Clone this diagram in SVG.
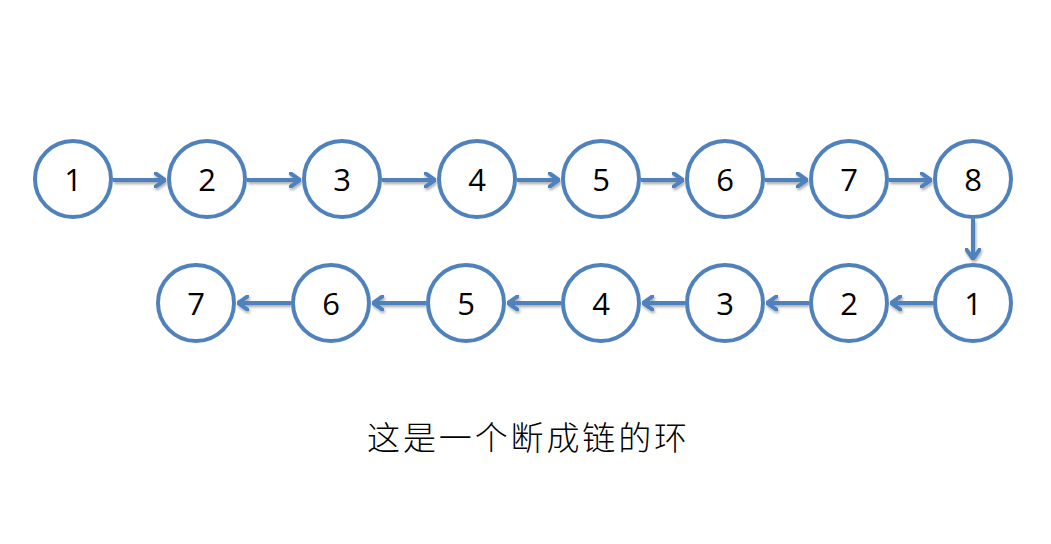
<svg xmlns="http://www.w3.org/2000/svg" width="1051" height="544" viewBox="0 0 1051 544">
<defs>
<style>
.n circle{fill:#fff;stroke:#4F81BD;stroke-width:4}
.n text{font-family:"Open Sans","Liberation Sans",sans-serif;font-size:31px;fill:#000;text-anchor:middle;dominant-baseline:central}
.c line{stroke:#4F81BD;stroke-width:4;marker-end:url(#ah)}
.cap{font-family:"Noto Sans CJK SC",sans-serif;font-size:33px;font-weight:300;fill:#000;text-anchor:middle}
</style>
<marker id="ah" viewBox="0 0 12 16" refX="11" refY="8" markerWidth="12" markerHeight="16" markerUnits="userSpaceOnUse" orient="auto">
<polyline points="1,1 11,8 1,15" fill="none" stroke="#4F81BD" stroke-width="4" stroke-linecap="round" stroke-linejoin="round"/>
</marker>
<filter id="sh" x="-10%" y="-50%" width="120%" height="200%">
<feGaussianBlur in="SourceAlpha" stdDeviation="1.5"/>
<feOffset dx="1" dy="2" result="b"/>
<feComponentTransfer><feFuncA type="linear" slope="0.35"/></feComponentTransfer>
<feMerge><feMergeNode/><feMergeNode in="SourceGraphic"/></feMerge>
</filter>
</defs>
<rect width="1051" height="544" fill="#fff"/>
<g class="c" filter="url(#sh)">
<line x1="113" y1="180" x2="165" y2="180"/>
<line x1="247" y1="180" x2="300" y2="180"/>
<line x1="382" y1="180" x2="435" y2="180"/>
<line x1="517" y1="180" x2="559" y2="180"/>
<line x1="641" y1="180" x2="683" y2="180"/>
<line x1="765" y1="180" x2="807" y2="180"/>
<line x1="889" y1="180" x2="931" y2="180"/>
<line x1="973" y1="219" x2="973" y2="259"/>
<line x1="933" y1="303" x2="891" y2="303"/>
<line x1="809" y1="303" x2="767" y2="303"/>
<line x1="685" y1="303" x2="643" y2="303"/>
<line x1="561" y1="303" x2="508" y2="303"/>
<line x1="426" y1="303" x2="373" y2="303"/>
<line x1="291" y1="303" x2="238" y2="303"/>
</g>
<g id="t1" class="n"><circle cx="73" cy="179" r="38"/><text x="73" y="179">1</text></g>
<g id="t2" class="n"><circle cx="207" cy="179" r="38"/><text x="207" y="179">2</text></g>
<g id="t3" class="n"><circle cx="342" cy="179" r="38"/><text x="342" y="179">3</text></g>
<g id="t4" class="n"><circle cx="477" cy="179" r="38"/><text x="477" y="179">4</text></g>
<g id="t5" class="n"><circle cx="601" cy="179" r="38"/><text x="601" y="179">5</text></g>
<g id="t6" class="n"><circle cx="725" cy="179" r="38"/><text x="725" y="179">6</text></g>
<g id="t7" class="n"><circle cx="849" cy="179" r="38"/><text x="849" y="179">7</text></g>
<g id="t8" class="n"><circle cx="973" cy="179" r="38"/><text x="973" y="179">8</text></g>
<g id="b1" class="n"><circle cx="973" cy="303" r="38"/><text x="973" y="303">1</text></g>
<g id="b2" class="n"><circle cx="849" cy="303" r="38"/><text x="849" y="303">2</text></g>
<g id="b3" class="n"><circle cx="725" cy="303" r="38"/><text x="725" y="303">3</text></g>
<g id="b4" class="n"><circle cx="601" cy="303" r="38"/><text x="601" y="303">4</text></g>
<g id="b5" class="n"><circle cx="466" cy="303" r="38"/><text x="466" y="303">5</text></g>
<g id="b6" class="n"><circle cx="331" cy="303" r="38"/><text x="331" y="303">6</text></g>
<g id="b7" class="n"><circle cx="196" cy="303" r="38"/><text x="196" y="303">7</text></g>
<text class="cap" x="527" y="450" textLength="320" lengthAdjust="spacing">这是一个断成链的环</text>
</svg>
